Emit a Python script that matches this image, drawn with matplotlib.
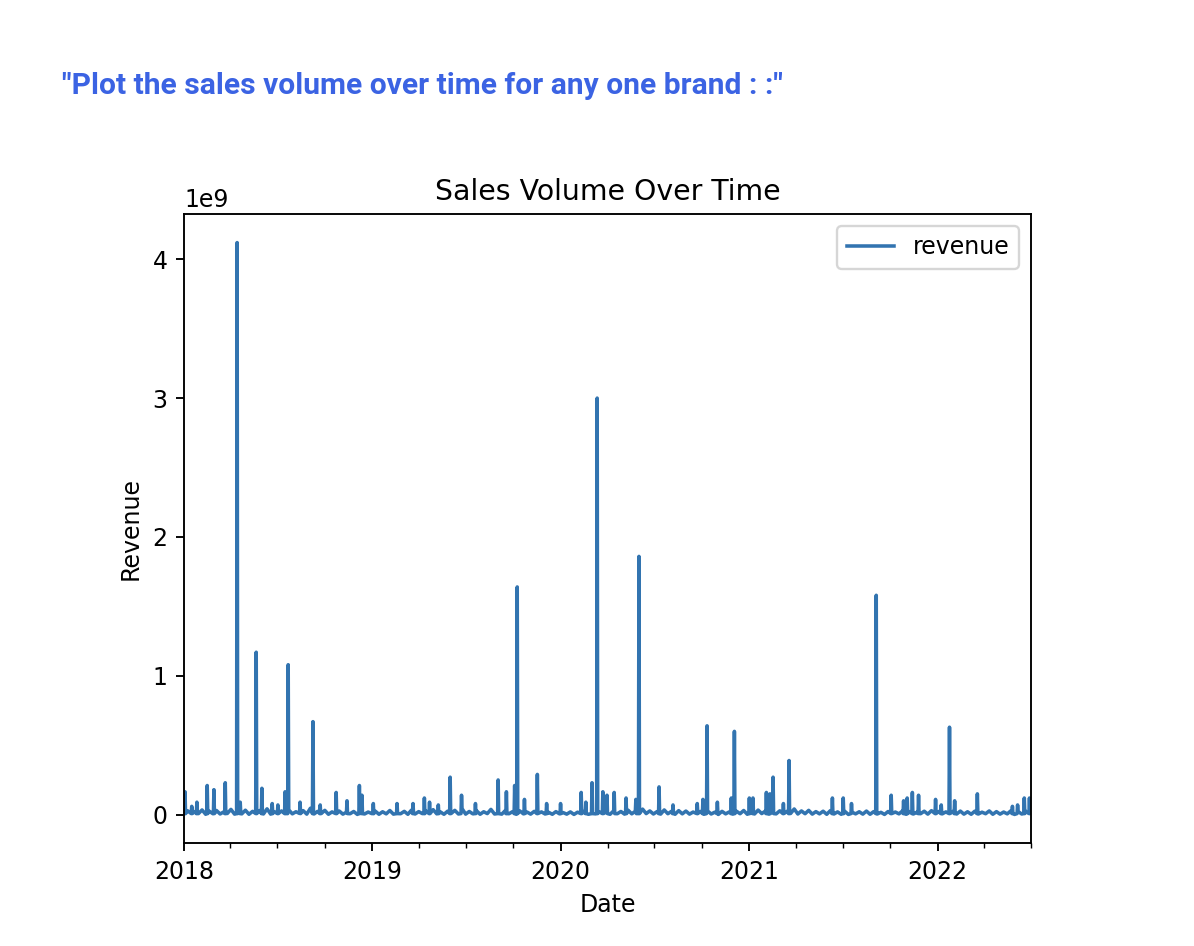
import numpy as np
import pandas as pd
import matplotlib
matplotlib.use("Agg")
import matplotlib.pyplot as plt
import matplotlib.dates as mdates

# weekly background revenue, in millions
base_m = [
    6, 28, 4, 22, 8, 34, 3, 25, 7, 30, 5, 20, 9, 38, 4, 26, 6, 32, 3, 24,
    8, 30, 5, 42, 4, 22, 7, 27, 3, 35, 6, 21, 9, 29, 4, 46, 5, 24, 8, 31,
    3, 20, 6, 26, 4, 18, 7, 23, 2, 28, 5, 19, 8, 25, 3, 21, 6, 30, 4, 17,
    7, 24, 3, 33, 5, 22, 8, 27, 4, 36, 6, 20, 3, 25, 9, 31, 5, 44, 4, 23,
    6, 29, 3, 21, 8, 38, 5, 26, 4, 30, 7, 22, 3, 27, 6, 19, 4, 24, 2, 20,
    5, 17, 3, 22, 6, 15, 4, 20, 2, 18, 5, 26, 3, 16, 6, 21, 4, 19, 3, 28,
    7, 23, 4, 32, 6, 25, 3, 40, 8, 27, 5, 22, 4, 34, 7, 24, 3, 29, 6, 26,
    4, 19, 6, 23, 3, 27, 5, 18, 2, 24, 6, 20, 4, 25, 7, 30, 3, 22, 5, 33,
    8, 26, 4, 37, 6, 28, 3, 24, 9, 41, 5, 27, 7, 31, 4, 22, 6, 25, 3, 29,
    5, 20, 3, 24, 2, 18, 6, 21, 4, 26, 3, 22, 5, 17, 2, 23, 4, 19, 6, 27,
    3, 22, 5, 18, 7, 25, 4, 29, 2, 23, 6, 20, 3, 24, 5, 26, 4, 21, 3, 25,
    5, 18, 7, 27, 3, 22, 4, 19, 6, 28, 2, 23, 5, 26, 4,
]

# peaks, in millions
peak_dates = [
    "2018-01-03", "2018-01-16", "2018-01-26", "2018-02-15", "2018-02-28", "2018-03-22",
    "2018-04-14", "2018-04-20", "2018-05-21", "2018-06-01", "2018-06-21", "2018-07-02",
    "2018-07-16", "2018-07-22", "2018-08-14", "2018-09-08", "2018-09-22", "2018-10-23",
    "2018-11-13", "2018-12-07", "2018-12-12", "2019-01-03", "2019-02-18", "2019-03-21",
    "2019-04-12", "2019-04-22", "2019-05-09", "2019-06-01", "2019-06-23", "2019-07-20",
    "2019-09-02", "2019-09-18", "2019-10-04", "2019-10-09", "2019-10-23", "2019-11-17",
    "2019-12-05", "2020-01-01", "2020-02-10", "2020-02-19", "2020-03-02", "2020-03-12",
    "2020-03-23", "2020-03-31", "2020-04-14", "2020-05-07", "2020-05-26", "2020-06-01",
    "2020-07-10", "2020-08-06", "2020-09-22", "2020-10-03", "2020-10-11", "2020-10-31",
    "2020-11-27", "2020-12-03", "2021-01-01", "2021-01-08", "2021-02-03", "2021-02-10",
    "2021-02-16", "2021-03-08", "2021-03-19", "2021-06-11", "2021-07-02", "2021-07-18",
    "2021-09-04", "2021-10-03", "2021-10-27", "2021-11-03", "2021-11-13", "2021-11-25",
    "2021-12-28", "2022-01-08", "2022-01-24", "2022-02-03", "2022-03-19", "2022-05-26",
    "2022-06-05", "2022-06-18", "2022-06-28", "2022-07-01",
]
peak_m = [
    165, 60, 90, 210, 180, 230,
    4120, 90, 1170, 190, 80, 70,
    165, 1080, 90, 670, 70, 160,
    100, 210, 140, 80, 80, 80,
    120, 90, 70, 270, 140, 80,
    250, 165, 210, 1640, 110, 290,
    80, 80, 160, 90, 230, 3000,
    165, 140, 160, 120, 110, 1860,
    200, 70, 80, 110, 640, 90,
    120, 600, 120, 120, 160, 150,
    270, 80, 390, 120, 120, 80,
    1580, 140, 100, 120, 160, 140,
    110, 70, 630, 100, 150, 60,
    70, 120, 120, 110,
]
# level the line drops back to on the day before / after a peak
foot_m = 8

base = pd.Series(base_m, index=pd.date_range("2018-01-01", periods=len(base_m), freq="7D"))
peaks = pd.Series(peak_m, index=pd.to_datetime(peak_dates))
day = pd.Timedelta(days=1)
feet = pd.Series(foot_m, index=peaks.index[:-1].append(peaks.index[:-1]) + np.repeat([-day, day], len(peaks) - 1))
revenue = pd.concat([base, feet, peaks]).groupby(level=0).max().sort_index() * 1e6

fig = plt.figure(figsize=(1194 / 170, 946 / 170), dpi=170)
ax = fig.add_axes([184 / 1194, 1 - 843 / 946, 847 / 1194, 629 / 946])

ax.plot(revenue.index, revenue.values, color="#3274b0", label="revenue")
ax.set_xlim(base.index[0], peaks.index[-1])

ax.xaxis.set_major_locator(mdates.YearLocator())
ax.xaxis.set_major_formatter(mdates.DateFormatter("%Y"))
ax.xaxis.set_minor_locator(mdates.MonthLocator(bymonth=[4, 7, 10]))

ax.set_title("Sales Volume Over Time")
ax.set_xlabel("Date")
ax.set_ylabel("Revenue")
ax.legend(loc="upper right")

fig.text(62 / 1194, 1 - 86 / 946, '"Plot the sales volume over time for any one brand : :"',
         color="#3b63e3", fontsize=12.7, fontweight="bold", family="Roboto", va="center")

fig.savefig("out.png", dpi=170)
